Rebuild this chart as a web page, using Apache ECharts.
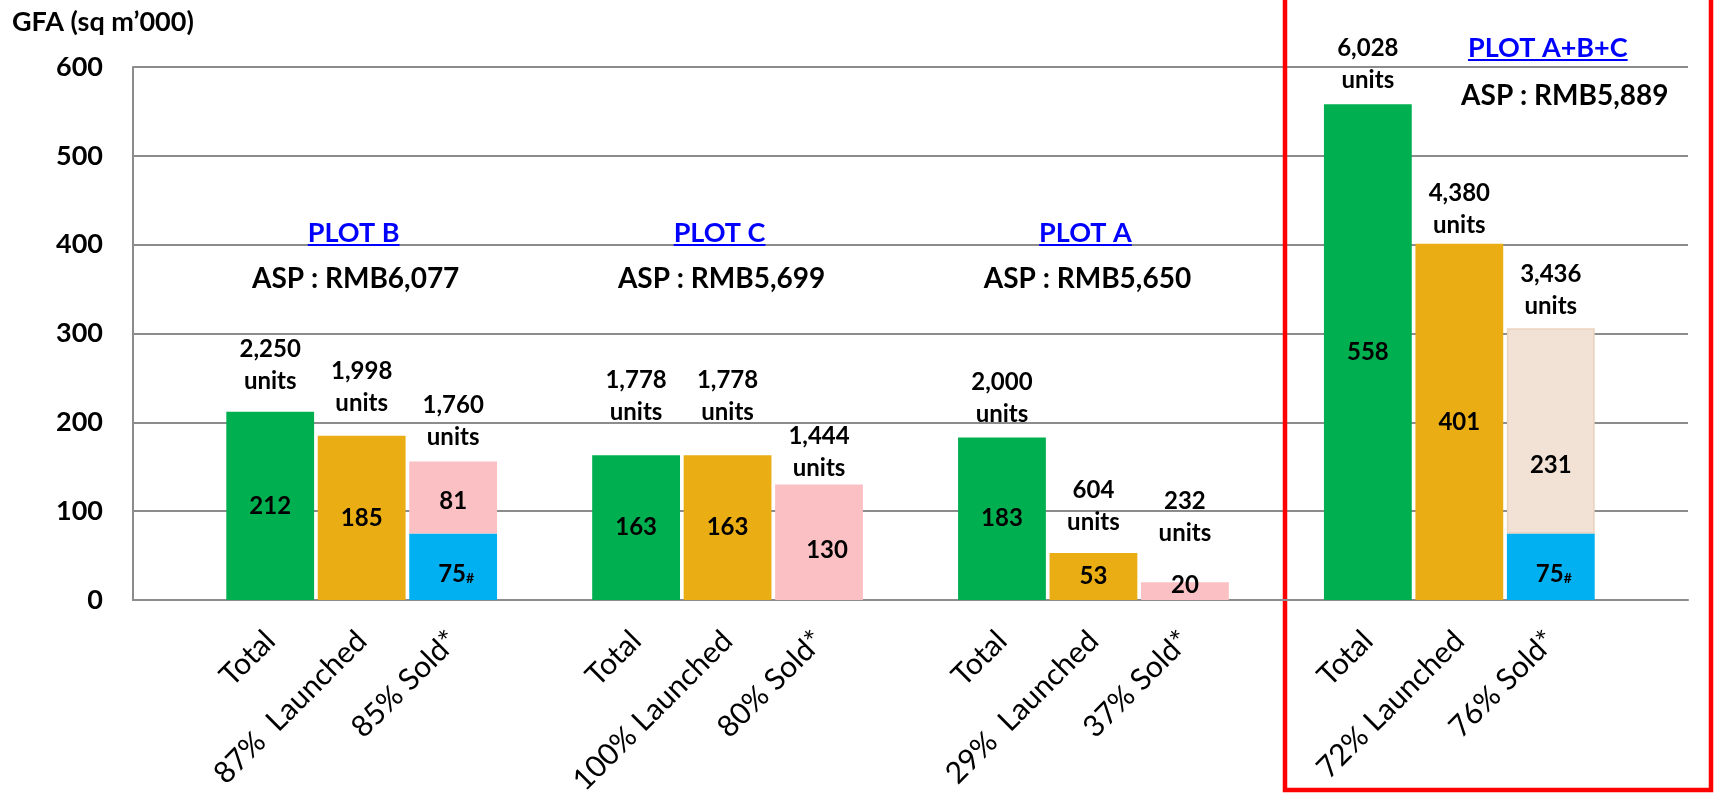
<!DOCTYPE html>
<html>
<head>
<meta charset="utf-8">
<script src="https://cdn.jsdelivr.net/npm/echarts@6/dist/echarts.min.js"></script>
<style>
	html, body { margin: 0; padding: 0; background: #fff; }
	#main { width: 1714px; height: 793px; }
</style>
</head>
<body>
<div id="main"></div>
<script type="text/javascript">
	// plots, left to right
	var plots = ['PLOT B', 'PLOT C', 'PLOT A', 'PLOT A+B+C'];
	var aspText = ['ASP : RMB6,077', 'ASP : RMB5,699', 'ASP : RMB5,650', 'ASP : RMB5,889'];
	var launchedNames = ['87%  Launched', '100% Launched', '29%  Launched', '72% Launched'];
	var soldNames = ['85% Sold*', '80% Sold*', '37% Sold*', '76% Sold*'];

	// GFA (sq m'000)
	var totalGfa = [212, 163, 183, 558];
	var launchedGfa = [185, 163, 53, 401];
	var soldHash = [75, 0, 0, 75]; // blue part, marked #
	var soldRest = [81, 130, 20, 231];

	// units
	var totalUnits = ['2,250', '1,778', '2,000', '6,028'];
	var launchedUnits = ['1,998', '1,778', '604', '4,380'];
	var soldUnits = ['1,760', '1,444', '232', '3,436'];

	var yTicks = [0, 100, 200, 300, 400, 500, 600];

	// layout tweaks for the labels (not data)
	var unitGap = [[14, 16, 8], [26, 26, 0], [7, 14, 32], [8, 2, 5]];
	var restOffset = [[0, 4], [8, 8], [0, -6], [0, 34]];

	var FONT = 'Lato, "Open Sans", sans-serif';
	var green = '#00B050', gold = '#EAAE14', blue = '#00B0F0', pink = '#FBC0C3', beige = '#F2E2D5';

	var unitLabel = {
		show: true,
		position: 'top',
		formatter: function(p) { return p.name + '\nunits'; },
		color: '#000',
		fontFamily: FONT,
		fontWeight: 'bold',
		fontSize: 24,
		lineHeight: 32
	};

	var cats = [''];
	var mainData = ['-'], hashData = ['-'], restData = ['-'], unitData = [];
	for (var g = 0; g < plots.length; g++) {
		var t = g * 4 + 1, l = g * 4 + 2, s = g * 4 + 3;
		cats.push('Total', launchedNames[g], soldNames[g], '');
		mainData.push({ value: totalGfa[g], itemStyle: { color: green } },
			{ value: launchedGfa[g], itemStyle: { color: gold } }, '-', '-');
		hashData.push('-', '-', soldHash[g] ? soldHash[g] : '-', '-');
		restData.push('-', '-', {
			value: soldRest[g],
			itemStyle: g == 3 ? { color: beige, borderColor: '#EBD2BD', borderWidth: 1.5 } : { color: pink },
			label: { offset: restOffset[g] }
		}, '-');
		var tops = [totalGfa[g], launchedGfa[g], soldHash[g] + soldRest[g]];
		var names = [totalUnits[g], launchedUnits[g], soldUnits[g]];
		for (var k = 0; k < 3; k++) {
			unitData.push({
				name: names[k],
				value: [t + k, tops[k]],
				label: Object.assign({}, unitLabel, { distance: unitGap[g][k] })
			});
		}
	}

	var valueLabel = {
		show: true,
		position: 'inside',
		color: '#000',
		fontFamily: FONT,
		fontWeight: 'bold',
		fontSize: 24
	};

	var chart = echarts.init(document.getElementById('main'));
	chart.setOption({
		animation: false,
		title: {
			text: 'GFA (sq m\u2019000)',
			left: 12,
			top: 9,
			padding: 0,
			textStyle: { fontFamily: FONT, fontWeight: 'bold', fontSize: 27, color: '#000' }
		},
		grid: { left: 133, right: 26, top: 67, bottom: 193, outerBoundsMode: 'none', containLabel: false },
		xAxis: {
			type: 'category',
			data: cats,
			axisLine: { lineStyle: { color: '#8c8c8c', width: 2 } },
			axisTick: { show: false },
			axisLabel: {
				interval: 0,
				rotate: 45,
				align: 'right',
				verticalAlign: 'middle',
				margin: 36,
				hideOverlap: false,
				color: '#000',
				fontFamily: FONT,
				fontSize: 30
			}
		},
		yAxis: {
			type: 'value',
			min: yTicks[0],
			max: yTicks[yTicks.length - 1],
			interval: 100,
			axisLine: { show: true, lineStyle: { color: '#8c8c8c', width: 2 } },
			axisTick: { show: false },
			splitLine: { lineStyle: { color: '#8c8c8c', width: 2 } },
			axisLabel: {
				margin: 30,
				color: '#000',
				fontFamily: FONT,
				fontWeight: 'bold',
				fontSize: 27
			}
		},
		series: [{
			name: 'main',
			type: 'bar',
			stack: 's',
			barCategoryGap: '4%',
			data: mainData,
			label: valueLabel
		}, {
			name: 'hash',
			type: 'bar',
			stack: 's',
			data: hashData,
			itemStyle: { color: blue },
			label: {
				show: true,
				position: 'inside',
				offset: [3, 8],
				formatter: '{v|{c}}{h|#}',
				rich: {
					v: { color: '#000', fontFamily: FONT, fontWeight: 'bold', fontSize: 24 },
					h: { color: '#000', fontFamily: FONT, fontWeight: 'bold', fontSize: 14, padding: [8, 0, 0, 0] }
				}
			}
		}, {
			name: 'rest',
			type: 'bar',
			stack: 's',
			data: restData,
			label: valueLabel
		}, {
			name: 'units',
			type: 'scatter',
			symbol: 'rect',
			symbolSize: 1,
			itemStyle: { color: 'rgba(0,0,0,0)', opacity: 1 },
			silent: true,
			data: unitData
		}]
	});

	// plot headings and the red frame round A+B+C
	var ctx = document.createElement('canvas').getContext('2d');
	var headFont = 'bold 27px Lato';
	ctx.font = headFont;
	var graphics = [];
	for (var g = 0; g < plots.length; g++) {
		var idx = g < 3 ? g * 4 + 2 : g * 4 + 3;
		var cx = chart.convertToPixel({ xAxisIndex: 0 }, idx);
		var headY = g < 3 ? 233 : 48;
		var aspY = g < 3 ? 279 : 96;
		var hx = g < 3 ? cx - 8 : cx - 3;
		var ax = g < 3 ? cx - 6 : cx + 14;
		var w = ctx.measureText(plots[g]).width;
		graphics.push({
			type: 'text', x: hx, y: headY,
			style: { text: plots[g], fill: '#0000FF', font: headFont, align: 'center', verticalAlign: 'middle' }
		}, {
			type: 'line', shape: { x1: hx - w / 2, y1: headY + 12, x2: hx + w / 2, y2: headY + 12 },
			style: { stroke: '#0000FF', lineWidth: 2 }
		}, {
			type: 'text', x: ax, y: aspY,
			style: { text: aspText[g], fill: '#000', font: 'bold 28px Lato', align: 'center', verticalAlign: 'middle' }
		});
	}
	graphics.push({
		type: 'rect',
		shape: { x: 1285, y: -5, width: 426, height: 795 },
		style: { fill: 'none', stroke: '#FF0000', lineWidth: 4.5 }
	});
	chart.setOption({ graphic: graphics });
</script>
</body>
</html>
